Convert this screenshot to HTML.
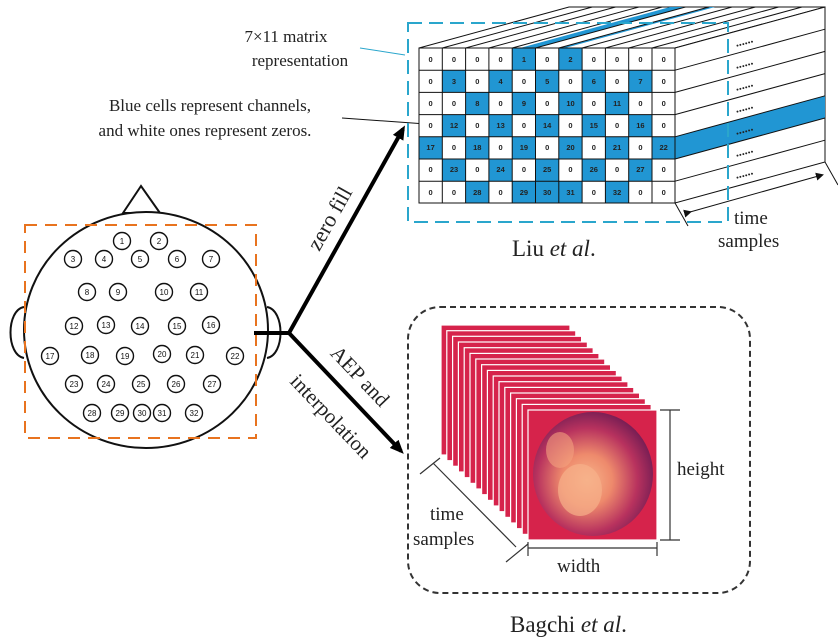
<!DOCTYPE html>
<html><head><meta charset="utf-8"><style>
html,body{margin:0;padding:0;background:#fff;}
svg{display:block;}
text{font-family:"Liberation Serif",serif;fill:#222;}
.n{font-family:"Liberation Sans",sans-serif;font-size:7.5px;font-weight:bold;text-anchor:middle;fill:#222;}
.e{font-family:"Liberation Sans",sans-serif;font-size:8px;text-anchor:middle;fill:#111;}
</style></head><body>
<svg width="838" height="641" viewBox="0 0 838 641" xmlns="http://www.w3.org/2000/svg">
<defs>
<marker id="ah" markerWidth="8" markerHeight="8" refX="6" refY="4" orient="auto" markerUnits="userSpaceOnUse"><path d="M0,0 L8,4 L0,8 Z" fill="#111"/></marker>
<marker id="big" markerWidth="14" markerHeight="12" refX="10" refY="6" orient="auto" markerUnits="userSpaceOnUse"><path d="M0,0 L14,6 L0,12 Z" fill="#000"/></marker>
<radialGradient id="blob" cx="0.45" cy="0.55" r="0.6">
<stop offset="0" stop-color="#f7b48a"/><stop offset="0.35" stop-color="#ee8a6c"/><stop offset="0.7" stop-color="#b8325e"/><stop offset="1" stop-color="#6b1a52"/>
</radialGradient>
</defs>

<!-- Head -->
<polygon points="123,213 141,186 160,213" fill="#fff" stroke="#111" stroke-width="2"/>
<path d="M24,307 C6,310 6,355 24,358" fill="#fff" stroke="#111" stroke-width="2"/>
<path d="M267,307 C285,310 285,355 267,358" fill="#fff" stroke="#111" stroke-width="2"/>
<ellipse cx="146" cy="330" rx="122" ry="118" fill="#fff" stroke="#111" stroke-width="2"/>
<rect x="25" y="225" width="231" height="213" fill="none" stroke="#e8731f" stroke-width="2" stroke-dasharray="12,8"/>
<g fill="#fff" stroke="#111" stroke-width="1.4">
<circle cx="122" cy="241" r="8.5"/><circle cx="159" cy="241" r="8.5"/>
<circle cx="73" cy="259" r="8.5"/><circle cx="104" cy="259" r="8.5"/><circle cx="140" cy="259" r="8.5"/><circle cx="177" cy="259" r="8.5"/><circle cx="211" cy="259" r="8.5"/>
<circle cx="87" cy="292" r="8.5"/><circle cx="118" cy="292" r="8.5"/><circle cx="164" cy="292" r="8.5"/><circle cx="199" cy="292" r="8.5"/>
<circle cx="74" cy="326" r="8.5"/><circle cx="106" cy="325" r="8.5"/><circle cx="140" cy="326" r="8.5"/><circle cx="177" cy="326" r="8.5"/><circle cx="211" cy="325" r="8.5"/>
<circle cx="50" cy="356" r="8.5"/><circle cx="90" cy="355" r="8.5"/><circle cx="125" cy="356" r="8.5"/><circle cx="162" cy="354" r="8.5"/><circle cx="195" cy="355" r="8.5"/><circle cx="235" cy="356" r="8.5"/>
<circle cx="74" cy="384" r="8.5"/><circle cx="106" cy="384" r="8.5"/><circle cx="141" cy="384" r="8.5"/><circle cx="176" cy="384" r="8.5"/><circle cx="212" cy="384" r="8.5"/>
<circle cx="92" cy="413" r="8.5"/><circle cx="120" cy="413" r="8.5"/><circle cx="142" cy="413" r="8.5"/><circle cx="162" cy="413" r="8.5"/><circle cx="194" cy="413" r="8.5"/>
</g>
<g class="e">
<text class="e" x="122" y="244">1</text><text class="e" x="159" y="244">2</text>
<text class="e" x="73" y="262">3</text><text class="e" x="104" y="262">4</text><text class="e" x="140" y="262">5</text><text class="e" x="177" y="262">6</text><text class="e" x="211" y="262">7</text>
<text class="e" x="87" y="295">8</text><text class="e" x="118" y="295">9</text><text class="e" x="164" y="295">10</text><text class="e" x="199" y="295">11</text>
<text class="e" x="74" y="329">12</text><text class="e" x="106" y="328">13</text><text class="e" x="140" y="329">14</text><text class="e" x="177" y="329">15</text><text class="e" x="211" y="328">16</text>
<text class="e" x="50" y="359">17</text><text class="e" x="90" y="358">18</text><text class="e" x="125" y="359">19</text><text class="e" x="162" y="357">20</text><text class="e" x="195" y="358">21</text><text class="e" x="235" y="359">22</text>
<text class="e" x="74" y="387">23</text><text class="e" x="106" y="387">24</text><text class="e" x="141" y="387">25</text><text class="e" x="176" y="387">26</text><text class="e" x="212" y="387">27</text>
<text class="e" x="92" y="416">28</text><text class="e" x="120" y="416">29</text><text class="e" x="142" y="416">30</text><text class="e" x="162" y="416">31</text><text class="e" x="194" y="416">32</text>
</g>

<!-- Connectors -->
<line x1="254" y1="333" x2="289" y2="333" stroke="#000" stroke-width="4"/>
<line x1="289" y1="333" x2="403" y2="129" stroke="#000" stroke-width="4" marker-end="url(#big)"/>
<line x1="289" y1="333" x2="401" y2="451" stroke="#000" stroke-width="4" marker-end="url(#big)"/>
<text x="0" y="0" font-size="22" text-anchor="middle" transform="translate(336,222) rotate(-60.8)">zero fill</text>
<text x="0" y="0" font-size="21" text-anchor="middle" transform="translate(355,381) rotate(46.4)">AEP and</text>
<text x="0" y="0" font-size="21" text-anchor="middle" transform="translate(326,421) rotate(46.4)">interpolation</text>

<!-- Labels top left -->
<text x="286" y="42" font-size="17" text-anchor="middle">7×11 matrix</text>
<text x="300" y="66" font-size="17" text-anchor="middle">representation</text>
<line x1="360" y1="48" x2="405" y2="55" stroke="#2aa6cc" stroke-width="1"/>
<text x="210" y="111" font-size="17" text-anchor="middle">Blue cells represent channels,</text>
<text x="205" y="136" font-size="17" text-anchor="middle">and white ones represent zeros.</text>
<line x1="342" y1="118" x2="440" y2="125" stroke="#111" stroke-width="1"/>

<!-- Matrix cube -->
<polygon points="419,48 675,48 825,7 569,7" fill="#fff" stroke="#111" stroke-width="1"/>
<polygon points="520,48 535.5,48 685.5,7 670,7" fill="#2196d3"/>
<polygon points="560,48 565,48 715,7 710,7" fill="#2196d3"/>
<g stroke="#111" stroke-width="1">
<line x1="442.3" y1="48" x2="592.3" y2="7"/><line x1="465.6" y1="48" x2="615.6" y2="7"/><line x1="488.9" y1="48" x2="638.9" y2="7"/><line x1="512.2" y1="48" x2="662.2" y2="7"/><line x1="535.5" y1="48" x2="685.5" y2="7"/><line x1="558.8" y1="48" x2="708.8" y2="7"/><line x1="582.1" y1="48" x2="732.1" y2="7"/><line x1="605.4" y1="48" x2="755.4" y2="7"/><line x1="628.7" y1="48" x2="778.7" y2="7"/><line x1="652" y1="48" x2="802" y2="7"/>
</g>
<polygon points="675,48 825,7 825,162 675,203" fill="#fff" stroke="#111" stroke-width="1"/>
<polygon points="675,136.8 825,95.8 825,118 675,159" fill="#2196d3"/>
<g stroke="#111" stroke-width="1">
<line x1="675" y1="70.2" x2="825" y2="29.2"/><line x1="675" y1="92.4" x2="825" y2="51.4"/><line x1="675" y1="114.6" x2="825" y2="73.6"/><line x1="675" y1="136.8" x2="825" y2="95.8"/><line x1="675" y1="159" x2="825" y2="118"/><line x1="675" y1="181.2" x2="825" y2="140.2"/>
</g>
<g font-size="12" font-weight="bold" font-family="Liberation Sans,sans-serif">
<text x="735" y="43" fill="#111" transform="rotate(-15 750 40)">......</text>
<text x="735" y="65" fill="#111" transform="rotate(-15 750 62)">......</text>
<text x="735" y="87" fill="#111" transform="rotate(-15 750 84)">......</text>
<text x="735" y="109" fill="#111" transform="rotate(-15 750 106)">......</text>
<text x="735" y="131" fill="#fff" transform="rotate(-15 750 128)">......</text>
<text x="735" y="153" fill="#111" transform="rotate(-15 750 150)">......</text>
<text x="735" y="175" fill="#111" transform="rotate(-15 750 172)">......</text>
</g>
<!-- front face -->
<rect x="419" y="48" width="256" height="155" fill="#fff"/>
<g fill="#2196d3">
<rect x="512.2" y="48" width="23.3" height="22.2"/><rect x="558.8" y="48" width="23.3" height="22.2"/>
<rect x="442.3" y="70.2" width="23.3" height="22.2"/><rect x="488.9" y="70.2" width="23.3" height="22.2"/><rect x="535.5" y="70.2" width="23.3" height="22.2"/><rect x="582.1" y="70.2" width="23.3" height="22.2"/><rect x="628.7" y="70.2" width="23.3" height="22.2"/>
<rect x="465.6" y="92.4" width="23.3" height="22.2"/><rect x="512.2" y="92.4" width="23.3" height="22.2"/><rect x="558.8" y="92.4" width="23.3" height="22.2"/><rect x="605.4" y="92.4" width="23.3" height="22.2"/>
<rect x="442.3" y="114.6" width="23.3" height="22.2"/><rect x="488.9" y="114.6" width="23.3" height="22.2"/><rect x="535.5" y="114.6" width="23.3" height="22.2"/><rect x="582.1" y="114.6" width="23.3" height="22.2"/><rect x="628.7" y="114.6" width="23.3" height="22.2"/>
<rect x="419" y="136.8" width="23.3" height="22.2"/><rect x="465.6" y="136.8" width="23.3" height="22.2"/><rect x="512.2" y="136.8" width="23.3" height="22.2"/><rect x="558.8" y="136.8" width="23.3" height="22.2"/><rect x="605.4" y="136.8" width="23.3" height="22.2"/><rect x="652" y="136.8" width="23.3" height="22.2"/>
<rect x="442.3" y="159" width="23.3" height="22.2"/><rect x="488.9" y="159" width="23.3" height="22.2"/><rect x="535.5" y="159" width="23.3" height="22.2"/><rect x="582.1" y="159" width="23.3" height="22.2"/><rect x="628.7" y="159" width="23.3" height="22.2"/>
<rect x="465.6" y="181.2" width="23.3" height="22.2"/><rect x="512.2" y="181.2" width="23.3" height="22.2"/><rect x="535.5" y="181.2" width="23.3" height="22.2"/><rect x="558.8" y="181.2" width="23.3" height="22.2"/><rect x="605.4" y="181.2" width="23.3" height="22.2"/>
</g>
<g stroke="#111" stroke-width="1">
<rect x="419" y="48" width="256" height="155" fill="none"/>
<line x1="442.3" y1="48" x2="442.3" y2="203"/><line x1="465.6" y1="48" x2="465.6" y2="203"/><line x1="488.9" y1="48" x2="488.9" y2="203"/><line x1="512.2" y1="48" x2="512.2" y2="203"/><line x1="535.5" y1="48" x2="535.5" y2="203"/><line x1="558.8" y1="48" x2="558.8" y2="203"/><line x1="582.1" y1="48" x2="582.1" y2="203"/><line x1="605.4" y1="48" x2="605.4" y2="203"/><line x1="628.7" y1="48" x2="628.7" y2="203"/><line x1="652" y1="48" x2="652" y2="203"/>
<line x1="419" y1="70.2" x2="675" y2="70.2"/><line x1="419" y1="92.4" x2="675" y2="92.4"/><line x1="419" y1="114.6" x2="675" y2="114.6"/><line x1="419" y1="136.8" x2="675" y2="136.8"/><line x1="419" y1="159" x2="675" y2="159"/><line x1="419" y1="181.2" x2="675" y2="181.2"/>
</g>
<g class="n">
<text class="n" x="430.6" y="62">0</text><text class="n" x="454" y="62">0</text><text class="n" x="477.3" y="62">0</text><text class="n" x="500.6" y="62">0</text><text class="n" x="523.9" y="62">1</text><text class="n" x="547.2" y="62">0</text><text class="n" x="570.5" y="62">2</text><text class="n" x="593.8" y="62">0</text><text class="n" x="617.1" y="62">0</text><text class="n" x="640.4" y="62">0</text><text class="n" x="663.7" y="62">0</text>
<text class="n" x="430.6" y="84">0</text><text class="n" x="454" y="84">3</text><text class="n" x="477.3" y="84">0</text><text class="n" x="500.6" y="84">4</text><text class="n" x="523.9" y="84">0</text><text class="n" x="547.2" y="84">5</text><text class="n" x="570.5" y="84">0</text><text class="n" x="593.8" y="84">6</text><text class="n" x="617.1" y="84">0</text><text class="n" x="640.4" y="84">7</text><text class="n" x="663.7" y="84">0</text>
<text class="n" x="430.6" y="106">0</text><text class="n" x="454" y="106">0</text><text class="n" x="477.3" y="106">8</text><text class="n" x="500.6" y="106">0</text><text class="n" x="523.9" y="106">9</text><text class="n" x="547.2" y="106">0</text><text class="n" x="570.5" y="106">10</text><text class="n" x="593.8" y="106">0</text><text class="n" x="617.1" y="106">11</text><text class="n" x="640.4" y="106">0</text><text class="n" x="663.7" y="106">0</text>
<text class="n" x="430.6" y="128">0</text><text class="n" x="454" y="128">12</text><text class="n" x="477.3" y="128">0</text><text class="n" x="500.6" y="128">13</text><text class="n" x="523.9" y="128">0</text><text class="n" x="547.2" y="128">14</text><text class="n" x="570.5" y="128">0</text><text class="n" x="593.8" y="128">15</text><text class="n" x="617.1" y="128">0</text><text class="n" x="640.4" y="128">16</text><text class="n" x="663.7" y="128">0</text>
<text class="n" x="430.6" y="150">17</text><text class="n" x="454" y="150">0</text><text class="n" x="477.3" y="150">18</text><text class="n" x="500.6" y="150">0</text><text class="n" x="523.9" y="150">19</text><text class="n" x="547.2" y="150">0</text><text class="n" x="570.5" y="150">20</text><text class="n" x="593.8" y="150">0</text><text class="n" x="617.1" y="150">21</text><text class="n" x="640.4" y="150">0</text><text class="n" x="663.7" y="150">22</text>
<text class="n" x="430.6" y="172">0</text><text class="n" x="454" y="172">23</text><text class="n" x="477.3" y="172">0</text><text class="n" x="500.6" y="172">24</text><text class="n" x="523.9" y="172">0</text><text class="n" x="547.2" y="172">25</text><text class="n" x="570.5" y="172">0</text><text class="n" x="593.8" y="172">26</text><text class="n" x="617.1" y="172">0</text><text class="n" x="640.4" y="172">27</text><text class="n" x="663.7" y="172">0</text>
<text class="n" x="430.6" y="195">0</text><text class="n" x="454" y="195">0</text><text class="n" x="477.3" y="195">28</text><text class="n" x="500.6" y="195">0</text><text class="n" x="523.9" y="195">29</text><text class="n" x="547.2" y="195">30</text><text class="n" x="570.5" y="195">31</text><text class="n" x="593.8" y="195">0</text><text class="n" x="617.1" y="195">32</text><text class="n" x="640.4" y="195">0</text><text class="n" x="663.7" y="195">0</text>
</g>
<rect x="408" y="23" width="320" height="199" fill="none" stroke="#2aa6cc" stroke-width="2" stroke-dasharray="14,7"/>
<!-- time samples arrow -->
<line x1="675" y1="203" x2="688" y2="226" stroke="#111" stroke-width="1"/>
<line x1="825" y1="162" x2="838" y2="185" stroke="#111" stroke-width="1"/>
<line x1="690" y1="212" x2="822" y2="175" stroke="#111" stroke-width="1" marker-start="url(#ah)" marker-end="url(#ah)"/>
<text x="734" y="224" font-size="19">time</text>
<text x="718" y="247" font-size="19">samples</text>
<text x="512" y="256" font-size="23">Liu <tspan font-style="italic">et al</tspan>.</text>

<!-- Bagchi box -->
<rect x="408" y="307" width="342" height="286" rx="32" ry="32" fill="none" stroke="#333" stroke-width="2" stroke-dasharray="6,4"/>
<g fill="#d6234b" stroke="#fff" stroke-width="1.2">
<rect x="441" y="325" width="129" height="130"/><rect x="446.8" y="330.7" width="129" height="130"/><rect x="452.6" y="336.3" width="129" height="130"/><rect x="458.4" y="342" width="129" height="130"/><rect x="464.2" y="347.7" width="129" height="130"/><rect x="470" y="353.4" width="129" height="130"/><rect x="475.8" y="359" width="129" height="130"/><rect x="481.6" y="364.7" width="129" height="130"/><rect x="487.4" y="370.4" width="129" height="130"/><rect x="493.2" y="376" width="129" height="130"/><rect x="499" y="381.7" width="129" height="130"/><rect x="504.8" y="387.4" width="129" height="130"/><rect x="510.6" y="393" width="129" height="130"/><rect x="516.4" y="398.7" width="129" height="130"/><rect x="522.2" y="404.4" width="129" height="130"/>
<rect x="528" y="410" width="129" height="130"/>
</g>
<ellipse cx="593" cy="474" rx="60" ry="62" fill="url(#blob)"/>
<ellipse cx="580" cy="490" rx="22" ry="26" fill="#f6b08a" opacity="0.7"/>
<ellipse cx="560" cy="450" rx="14" ry="18" fill="#f3a27f" opacity="0.6"/>
<!-- dimension lines -->
<g stroke="#333" stroke-width="1.2">
<line x1="670" y1="410" x2="670" y2="540"/><line x1="660" y1="410" x2="680" y2="410"/><line x1="660" y1="540" x2="680" y2="540"/>
<line x1="528" y1="548" x2="657" y2="548"/><line x1="528" y1="542" x2="528" y2="556"/><line x1="657" y1="542" x2="657" y2="556"/>
<line x1="433" y1="463" x2="516" y2="547"/><line x1="420" y1="474" x2="440" y2="458"/><line x1="506" y1="562" x2="528" y2="544"/>
</g>
<text x="677" y="475" font-size="19">height</text>
<text x="557" y="572" font-size="19">width</text>
<text x="430" y="520" font-size="19">time</text>
<text x="413" y="545" font-size="19">samples</text>
<text x="510" y="632" font-size="23">Bagchi <tspan font-style="italic">et al</tspan>.</text>
</svg>
</body></html>
